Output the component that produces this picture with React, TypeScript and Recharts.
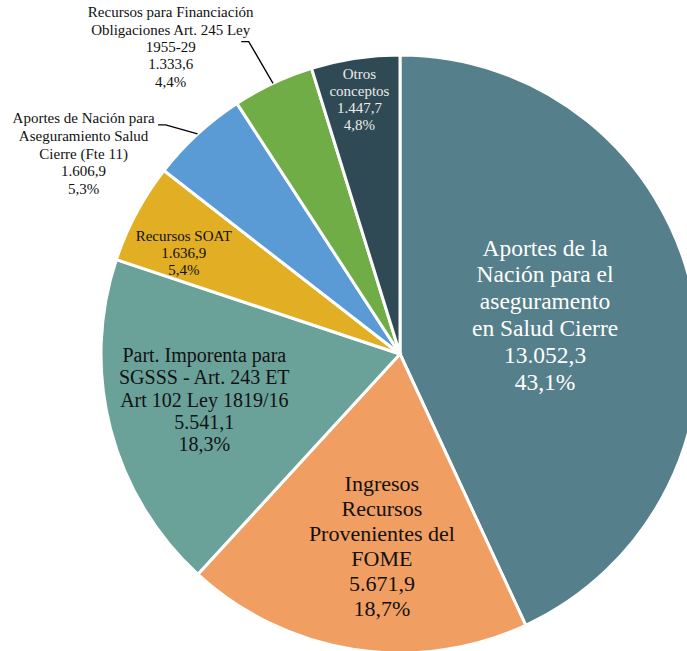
import React from "react";
import { PieChart, Pie, Cell } from "recharts";

// Fuentes de financiación (miles de millones)
const categories = [
  "Aportes de la\nNación para el\naseguramento\nen Salud Cierre",
  "Ingresos\nRecursos\nProvenientes del\nFOME",
  "Part. Imporenta para\nSGSSS - Art. 243 ET\nArt 102 Ley 1819/16",
  "Recursos SOAT",
  "Aportes de Nación para\nAseguramiento Salud\nCierre (Fte 11)",
  "Recursos para Financiación\nObligaciones Art. 245 Ley\n1955-29",
  "Otros\nconceptos",
];
const values = [13052.3, 5671.9, 5541.1, 1636.9, 1606.9, 1333.6, 1447.7];
const colors = ["#557f8a", "#f19e62", "#6aa29a", "#e1ae24", "#5b9bd5", "#70ad47", "#2f4a54"];

// label placement: fraction of radius along the slice mid angle, nudges, text style
const labelLayout = [
  { fr: 0.49, dx: 2, dy: -8, size: 23.5, lh: 26.8, color: "#ffffff" },
  { fr: 0.645, dx: 11.5, dy: 1, size: 22, lh: 25, color: "#111111" },
  { fr: 0.728, dx: 15, dy: -9, size: 20, lh: 22.3, color: "#111111" },
  { fr: 0.82, dx: 0, dy: 14, size: 15, lh: 17, color: "#111111" },
  { fr: 1, dx: 0, dy: 0, size: 15, lh: 17.6, color: "#111111", leader: [-32, -9], tx: -82, ty: 28.5 },
  { fr: 1, dx: 0, dy: 0, size: 15, lh: 17.4, color: "#111111", leader: [-24.3, -41.7], tx: -78, ty: 5.2 },
  { fr: 0.862, dx: -2, dy: 0, size: 15, lh: 17, color: "#ececec" },
];

const total = values.reduce((a, b) => a + b, 0);

const fmtNum = (v: number) => {
  const [int, dec] = v.toFixed(1).split(".");
  return int.replace(/\B(?=(\d{3})+(?!\d))/g, ".") + "," + dec;
};
const fmtPct = (v: number) => ((v / total) * 100).toFixed(1).replace(".", ",") + "%";

const data = categories.map((name, i) => ({ name, value: values[i] }));

const RAD = Math.PI / 180;

const renderLabel = (props: any) => {
  const { cx, cy, midAngle, outerRadius, index } = props;
  const lay: any = labelLayout[index];
  const lines = [...categories[index].split("\n"), fmtNum(values[index]), fmtPct(values[index])];
  const cos = Math.cos(-midAngle * RAD);
  const sin = Math.sin(-midAngle * RAD);
  let x = cx + outerRadius * lay.fr * cos + lay.dx;
  let y = cy + outerRadius * lay.fr * sin + lay.dy;
  let leader = null;
  if (lay.leader) {
    const ax = cx + outerRadius * cos;
    const ay = cy + outerRadius * sin;
    const ex = ax + lay.leader[0];
    const ey = ay + lay.leader[1];
    leader = (
      <polyline
        points={`${ax},${ay} ${ex},${ey} ${ex - 7.5},${ey}`}
        fill="none"
        stroke="#000"
        strokeWidth={1.3}
      />
    );
    x = ex + lay.tx;
    y = ey + lay.ty;
  }
  const y0 = y - ((lines.length - 1) * lay.lh) / 2 + lay.size * 0.35;
  return (
    <g key={`lbl-${index}`}>
      {leader}
      <text
        x={x}
        y={y0}
        textAnchor="middle"
        fill={lay.color}
        style={{ fontSize: lay.size, fontFamily: "'Liberation Serif', serif" }}
      >
        {lines.map((l, i) => (
          <tspan key={i} x={x} y={y0 + i * lay.lh}>
            {l}
          </tspan>
        ))}
      </text>
    </g>
  );
};

export default function App() {
  return (
    <div style={{ position: "absolute", left: 0, top: 0, background: "#fff" }}>
      <PieChart width={687} height={651} margin={{ top: 0, right: 0, bottom: 0, left: 0 }}>
        <Pie
          data={data}
          dataKey="value"
          nameKey="name"
          cx={400}
          cy={354}
          outerRadius={299}
          startAngle={90}
          endAngle={-270}
          stroke="#ffffff"
          strokeWidth={3}
          label={renderLabel}
          labelLine={false}
          isAnimationActive={false}
        >
          {data.map((d, i) => (
            <Cell key={d.name} fill={colors[i]} />
          ))}
        </Pie>
      </PieChart>
    </div>
  );
}
